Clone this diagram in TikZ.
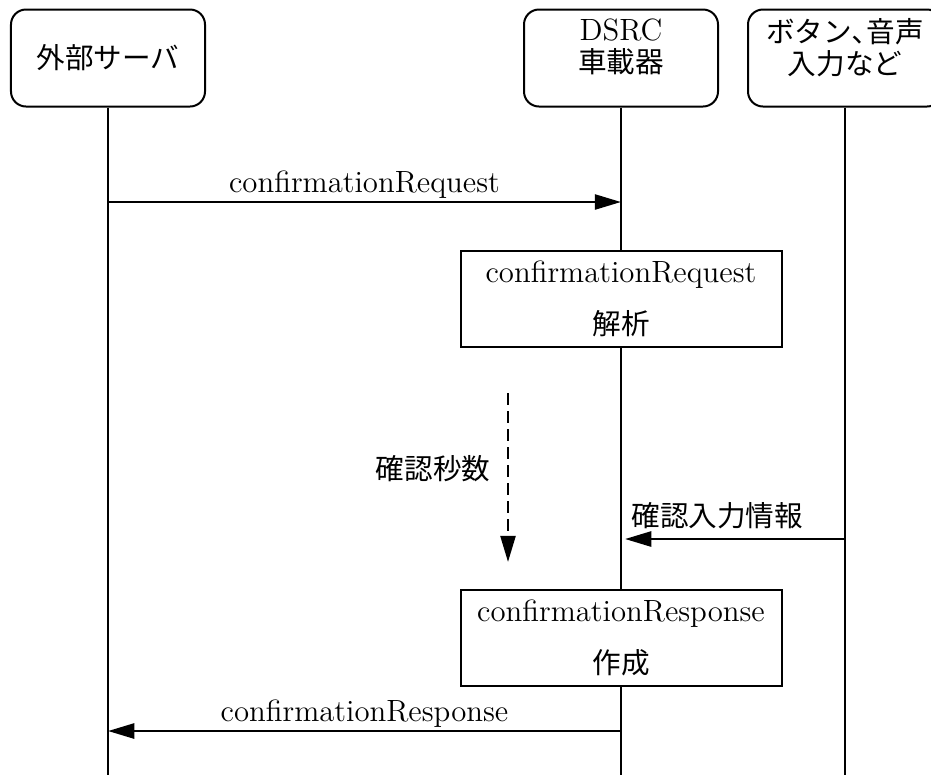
\documentclass[tikz,border=0pt]{standalone}
\usepackage{fontspec}
\usepackage{tikz}
\usetikzlibrary{arrows.meta}
\newfontfamily\jp{Noto Sans CJK JP}[Scale=0.93]

\begin{document}
\begin{tikzpicture}[x=0.4pt, y=-0.4pt, font=\fontsize{12.3}{14.8}\selectfont,
  actor/.style={rectangle, rounded corners=6pt, draw=black, line width=0.8pt, minimum width = 77.6pt, minimum height = 38.8pt, align=center},
  proc/.style={rectangle, draw=black, line width=0.8pt, minimum width = 128.4pt, minimum height = 38.6pt, align=center},
  life/.style={line width=0.6pt},
  msg/.style={-{Triangle[length=10.5pt, width=6pt]}, line width=1.05pt}]

\useasboundingbox (0,0) rectangle (931,775);

\node[actor] (srv) at (108,58) {\jp 外部サーバ};
\node[actor] (dsrc) at (621,58) {DSRC\\[-2pt]{\jp 車載器}\\[-5.2pt]\mbox{}};
\node[actor] (btn) at (845,58) {{\jp ボタン､音声}\\[-2pt]{\jp 入力など}\\[-5.2pt]\mbox{}};

\node[proc] (ana) at (621,299) {confirmationRequest\\[6pt]{\jp 解析}};
\node[proc] (gen) at (621,638) {confirmationResponse\\[6pt]{\jp 作成}};

\coordinate (waitA) at (508,393);
\coordinate (waitB) at (508,562);

% lifelines
\draw[life] (srv.south) -- (srv.south |- 0,775);
\draw[life] (dsrc.south) -- (ana.north);
\draw[life] (ana.south) -- (gen.north);
\draw[life] (gen.south) -- (gen.south |- 0,775);
\draw[life] (btn.south) -- (btn.south |- 0,775);

% messages
\draw[msg] (srv |- 0,202) -- node[above, inner sep=1pt] {confirmationRequest} (dsrc |- 0,202);
\draw[msg, dash pattern=on 4.8pt off 2.4pt] (waitA) -- node[left=3.2pt, pos=0.45] {\jp 確認秒数} (waitB);
\draw[msg, shorten >=1.6pt] (btn |- 0,539) -- node[above, inner sep=3.5pt, pos=0.57] {\jp 確認入力情報} (dsrc |- 0,539);
\draw[msg] (gen |- 0,731) -- node[above, inner sep=1pt] {confirmationResponse} (srv |- 0,731);

\end{tikzpicture}
\end{document}
